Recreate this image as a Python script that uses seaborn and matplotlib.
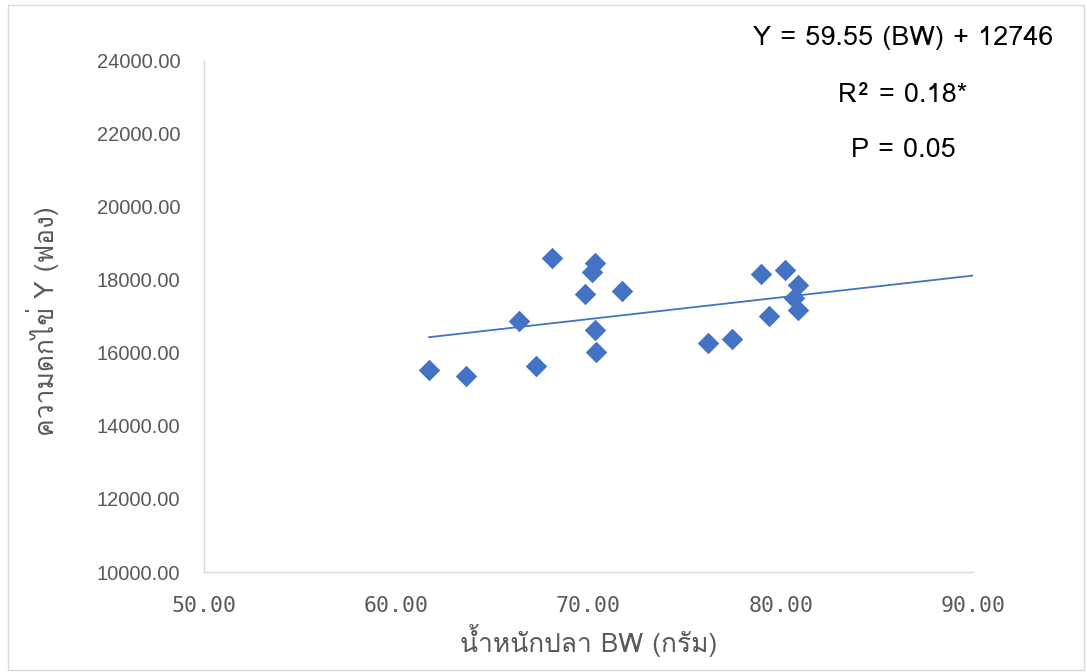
import matplotlib
matplotlib.use("Agg")
import matplotlib.pyplot as plt
from matplotlib import font_manager
from matplotlib.ft2font import FT2Font
import seaborn as sns
import numpy as np
import pandas as pd

# data
bw = [61.70, 63.63, 66.38, 67.27, 68.10, 69.82, 70.18, 70.34, 70.34, 70.39,
      71.74, 76.22, 77.46, 78.97, 79.39, 80.22, 80.90, 80.69, 80.90]
eggs = [15530, 15360, 16860, 15630, 18590, 17600, 18200, 18450, 16620, 16010,
        17680, 16260, 16370, 18150, 17000, 18260, 17850, 17490, 17160]
slope = 59.55
intercept = 12746
eq_lines = ["Y = 59.55 (BW) + 12746", "R² = 0.18*", "P = 0.05"]

df = pd.DataFrame({"bw": bw, "eggs": eggs})


def find_thai_family():
    for f in font_manager.fontManager.ttflist:
        try:
            ft = FT2Font(f.fname)
            if ord("ก") in ft.get_charmap():
                return f.name
        except Exception:
            pass
    return None


sns.set_theme(style="white")
thai = find_thai_family()
fams = ([thai] if thai else []) + ["DejaVu Sans"]
plt.rcParams["font.family"] = fams

blue = "#4472C4"
grey = "#595959"

fig = plt.figure(figsize=(10.87, 6.72), dpi=100)
ax = fig.add_axes([0.1877, 0.1488, 0.895 - 0.1877, 0.9107 - 0.1488])

sns.scatterplot(data=df, x="bw", y="eggs", marker="D", s=120, color=blue,
                edgecolor=blue, linewidth=0, ax=ax, zorder=3)

xs = np.array([min(bw), 90])
sns.lineplot(x=xs, y=slope * xs + intercept, color=blue, linewidth=1.3, ax=ax)

ax.set_xlim(50, 90)
ax.set_ylim(10000, 24000)
ax.set_xticks(np.arange(50, 91, 10))
ax.set_yticks(np.arange(10000, 24001, 2000))
ax.set_xticklabels([f"{v:.2f}" for v in np.arange(50, 91, 10)])
ax.set_yticklabels([f"{v:.2f}" for v in np.arange(10000, 24001, 2000)])
ax.tick_params(axis="x", colors=grey, labelsize=15.5, length=0, pad=17)
ax.tick_params(axis="y", colors=grey, labelsize=14.5, length=0, pad=17)
for lab in ax.get_xticklabels():
    lab.set_fontfamily(["DejaVu Sans Mono", "DejaVu Sans"])
for lab in ax.get_yticklabels():
    lab.set_fontfamily(["Liberation Sans", "DejaVu Sans"])

ax.set_xlabel("น้ำหนักปลา BW (กรัม)", fontsize=19, color=grey)
ax.set_ylabel("ความดกไข่ Y (ฟอง)", fontsize=19, color=grey)
ax.xaxis.set_label_coords(0.5, -0.133)
ax.xaxis.label.set_va("center")
ax.yaxis.set_label_coords(-0.21, 0.49)
ax.yaxis.label.set_va("center")

for s in ["top", "right"]:
    ax.spines[s].set_visible(False)
for s in ["left", "bottom"]:
    ax.spines[s].set_color("#D9D9D9")
    ax.spines[s].set_linewidth(1)

for txt, ypix in zip(eq_lines, [38, 95, 150]):
    fig.text(903 / 1087, 1 - ypix / 672, txt, ha="center", va="center",
             fontsize=19.5, color="black")

border = plt.Rectangle((0.007, 0.003), 0.99, 0.99, transform=fig.transFigure,
                       fill=False, edgecolor="#D9D9D9", linewidth=1)
fig.patches.append(border)

fig.savefig("out.png", dpi=100)
